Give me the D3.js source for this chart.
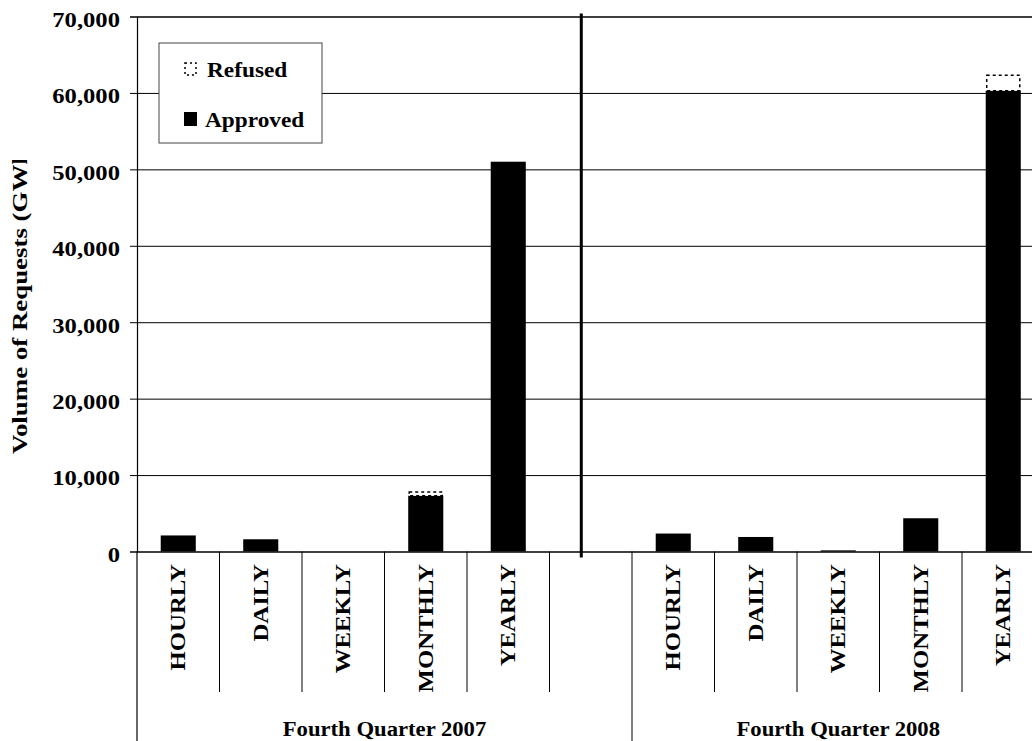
<!DOCTYPE html>
<html>
<head>
<meta charset="utf-8">
<script src="https://cdn.jsdelivr.net/npm/d3@7"></script>
<style>
  html, body { margin: 0; padding: 0; background: #fff; }
  svg { display: block; }
  text { font-family: "Liberation Serif", "Times New Roman", serif; font-weight: bold; fill: #000; }
</style>
</head>
<body>
<svg id="chart" width="1032" height="741"></svg>
<script>
// ---- data ----
const quarters = ["Fourth Quarter 2007", "Fourth Quarter 2008"];
const periods = ["HOURLY", "DAILY", "WEEKLY", "MONTHLY", "YEARLY"];
const approved2007 = [2100, 1600, 0, 7300, 51000];
const refused2007  = [0, 0, 0, 500, 0];
const approved2008 = [2350, 1900, 150, 4350, 60300];
const refused2008  = [0, 0, 0, 0, 2000];
const yTicks = [0, 10000, 20000, 30000, 40000, 50000, 60000, 70000];
const seriesNames = ["Refused", "Approved"];
const yTitle = "Volume of Requests (GWh)";

// ---- layout ----
const svg = d3.select("#chart");
const plotLeft = 137, plotTop = 16.5, plotBottom = 551.5;
const step = 82.5;

// slots: group1 five periods + a gap slot, group2 five periods
const slots = [];
periods.forEach(p => slots.push("2007|" + p));
slots.push("2007|gap");
periods.forEach(p => slots.push("2008|" + p));
const plotRight = plotLeft + slots.length * step;

const rows = [];
periods.forEach((p, i) => rows.push({key: "2007|" + p, approved: approved2007[i], refused: refused2007[i]}));
periods.forEach((p, i) => rows.push({key: "2008|" + p, approved: approved2008[i], refused: refused2008[i]}));

const x = d3.scaleBand().domain(slots).range([plotLeft, plotRight]).paddingInner(0.575).paddingOuter(0.2875);
const xSlot = d3.scaleBand().domain(slots).range([plotLeft, plotRight]).padding(0);
const y = d3.scaleLinear().domain([0, 70000]).range([plotBottom, plotTop]);

// gridlines
const grid = svg.append("g").attr("transform", `translate(${plotLeft},0)`)
  .call(d3.axisLeft(y).tickValues(yTicks).tickSize(-(plotRight - plotLeft)).tickFormat(""));
grid.select(".domain").remove();
grid.selectAll(".tick line").attr("stroke", "#000").attr("stroke-width", d => (d === 0 || d === 70000) ? 1.6 : 1);

// y axis
const yAxis = svg.append("g").attr("transform", `translate(${plotLeft},0)`)
  .call(d3.axisLeft(y).tickValues(yTicks).tickSize(7).tickPadding(0).tickFormat(d3.format(",")));
yAxis.select(".domain").attr("stroke", "#000").attr("stroke-width", 1.2);
yAxis.selectAll(".tick line").attr("stroke", "#000");
yAxis.selectAll(".tick text")
  .attr("x", 0).attr("dy", "0.45em")
  .attr("text-anchor", "end")
  .attr("transform", "translate(-17,0) scale(1.12,1)")
  .style("font-size", "22px").style("font-family", "Liberation Serif").style("font-weight", "bold");

// bars
const stack = d3.stack().keys(["approved", "refused"])(rows);
svg.append("g").selectAll("rect").data(stack[0]).join("rect")
  .attr("x", d => x(d.data.key)).attr("width", x.bandwidth())
  .attr("y", d => y(d[1])).attr("height", d => y(d[0]) - y(d[1]))
  .attr("fill", "#000");
svg.append("g").selectAll("rect").data(stack[1].filter(d => d.data.refused > 0)).join("rect")
  .attr("x", d => x(d.data.key) + 1).attr("width", x.bandwidth() - 2)
  .attr("y", d => y(d[1])).attr("height", d => y(d[0]) - y(d[1]))
  .attr("fill", "#fff").attr("stroke", "#000").attr("stroke-width", 1.5).attr("stroke-dasharray", "3,3");

// divider between quarters (in the gap slot)
const divX = x("2007|gap") + x.bandwidth() * 0.23;
svg.append("line").attr("x1", divX).attr("x2", divX).attr("y1", plotTop - 3).attr("y2", plotBottom + 6)
  .attr("stroke", "#000").attr("stroke-width", 3);

// category separators
const catBottom = 692;
slots.forEach((s, i) => {
  if (i === 0) return;
  const bx = xSlot(s);
  const isGroup = s === "2008|" + periods[0];
  svg.append("line").attr("x1", bx).attr("x2", bx).attr("y1", plotBottom).attr("y2", isGroup ? 741 : catBottom)
    .attr("stroke", "#000").attr("stroke-width", 1);
});
svg.append("line").attr("x1", plotRight).attr("x2", plotRight).attr("y1", plotBottom).attr("y2", 741).attr("stroke", "#000");
svg.append("line").attr("x1", plotLeft).attr("x2", plotLeft).attr("y1", plotBottom).attr("y2", 741).attr("stroke", "#000").attr("stroke-width", 1.2);

// category labels
svg.append("g").selectAll("text").data(rows).join("text")
  .attr("text-anchor", "end")
  .attr("transform", d => `translate(${xSlot(d.key) + step / 2 + 7},564) rotate(-90) scale(1.18,1)`)
  .style("font-size", "21px")
  .text(d => d.key.split("|")[1]);

// group labels
const groupKeys = ["2007", "2008"];
svg.append("g").selectAll("text").data(quarters).join("text")
  .attr("text-anchor", "middle")
  .attr("transform", (d, i) => {
    const ks = slots.filter(s => s.startsWith(groupKeys[i] + "|"));
    const g0 = xSlot(ks[0]), g1 = xSlot(ks[ks.length - 1]) + step;
    return `translate(${(g0 + g1) / 2},736) scale(1.08,1)`;
  })
  .style("font-size", "21px")
  .text(d => d);

// y title (clipped like the reference)
svg.append("clipPath").attr("id", "ytclip").append("rect")
  .attr("x", 0).attr("y", 160).attr("width", 60).attr("height", 600);
svg.append("g").attr("clip-path", "url(#ytclip)")
  .append("text")
  .attr("text-anchor", "start")
  .attr("transform", "translate(27,454) rotate(-90) scale(1.28,1)")
  .style("font-size", "21px")
  .text(yTitle);

// legend
const lg = svg.append("g");
lg.append("rect").attr("x", 159).attr("y", 43).attr("width", 163).attr("height", 100)
  .attr("fill", "#fff").attr("stroke", "#444").attr("stroke-width", 1);
lg.append("rect").attr("x", 185).attr("y", 63).attr("width", 11).attr("height", 12)
  .attr("fill", "#fff").attr("stroke", "#000").attr("stroke-width", 1.5).attr("stroke-dasharray", "2,3");
lg.append("rect").attr("x", 184).attr("y", 112).attr("width", 13).attr("height", 14)
  .attr("fill", "#000");
lg.selectAll("text").data(seriesNames).join("text")
  .attr("transform", (d, i) => `translate(${i === 0 ? 207 : 205},${i === 0 ? 77 : 127}) scale(1.06,1)`)
  .style("font-size", "22px")
  .text(d => d);
</script>
</body>
</html>
